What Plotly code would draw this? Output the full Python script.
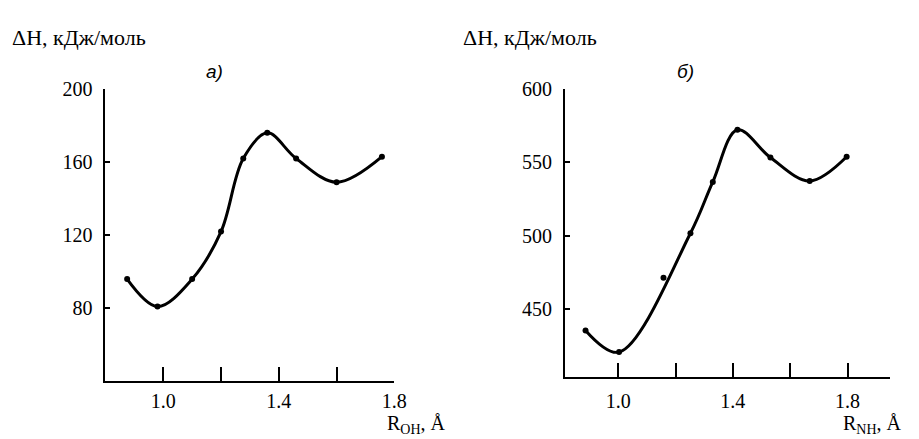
import plotly.graph_objects as go

# ---- data ----
oh_x = [0.875, 0.98, 1.10, 1.20, 1.277, 1.36, 1.46, 1.60, 1.757]
oh_y = [96, 81, 96, 122, 162, 176, 162, 149, 163]

nh_x = [0.886, 1.003, 1.158, 1.252, 1.330, 1.416, 1.531, 1.668, 1.797]
nh_y = [435.5, 420.7, 471.3, 501.7, 536.7, 572.2, 553.3, 537.3, 553.8]
nh_on_curve = [True, True, False, True, True, True, True, True, True]

oh_yticks = [80, 120, 160, 200]
nh_yticks = [450, 500, 550, 600]
x_ticklabels = [1.0, 1.4, 1.8]
x_minor = [1.2, 1.6]

W, H = 919, 439
SERIF = "Liberation Serif"
SANS = "Liberation Sans"

def px(x):
    return x / W

def py(y):
    return 1 - y / H

fig = go.Figure()

# left panel
fig.add_trace(go.Scatter(x=oh_x, y=oh_y, mode="lines", line=dict(color="black", width=3, shape="spline", smoothing=1.0),
                         xaxis="x", yaxis="y", hoverinfo="skip"))
fig.add_trace(go.Scatter(x=oh_x, y=oh_y, mode="markers", marker=dict(color="black", size=6),
                         xaxis="x", yaxis="y"))

# right panel
cx = [x for x, k in zip(nh_x, nh_on_curve) if k]
cy = [y for y, k in zip(nh_y, nh_on_curve) if k]
fig.add_trace(go.Scatter(x=cx, y=cy, mode="lines", line=dict(color="black", width=3, shape="spline", smoothing=1.0),
                         xaxis="x2", yaxis="y2", hoverinfo="skip"))
fig.add_trace(go.Scatter(x=nh_x, y=nh_y, mode="markers", marker=dict(color="black", size=6),
                         xaxis="x2", yaxis="y2"))

tickfont = dict(family=SERIF, size=20, color="black")

def xaxis(domain, rng, anchor, standoff):
    return dict(domain=domain, range=rng, anchor=anchor, showgrid=False, zeroline=False,
                showline=True, linecolor="black", linewidth=2,
                tickmode="array", tickvals=x_ticklabels, ticktext=[f"{v:.1f}" for v in x_ticklabels],
                ticks="inside", ticklen=14, tickwidth=1.5, tickcolor="black",
                minor=dict(tickmode="array", tickvals=x_minor, ticks="inside", ticklen=14, tickwidth=1.5, tickcolor="black"),
                tickfont=tickfont, ticklabelstandoff=standoff)

def yaxis(domain, rng, anchor, ticks):
    return dict(domain=domain, range=rng, anchor=anchor, showgrid=False, zeroline=False,
                showline=True, linecolor="black", linewidth=2,
                tickmode="array", tickvals=ticks, ticktext=[str(v) for v in ticks],
                ticks="inside", ticklen=5, tickwidth=1.5, tickcolor="black",
                tickfont=tickfont, ticklabelstandoff=7)

fig.update_layout(
    width=W, height=H, margin=dict(l=0, r=0, t=0, b=0),
    paper_bgcolor="white", plot_bgcolor="white", showlegend=False,
    xaxis=xaxis([px(107), px(400)], [0.8, 1.8], "y", 1),
    yaxis=yaxis([py(380), py(80)], [40, 200], "x", oh_yticks),
    xaxis2=xaxis([px(573), px(903)], [0.814, 1.949], "y2", 5),
    yaxis2=yaxis([py(375), py(80)], [404, 600], "x2", nh_yticks),
)

titlefont = dict(family=SERIF, size=22, color="black")
xtitlefont = dict(family=SERIF, size=20, color="black")
labfont = dict(family=SANS, size=19, color="black")
ann = [
    dict(text="ΔH, кДж/моль", x=px(10), y=py(27), xanchor="left", yanchor="middle", font=titlefont),
    dict(text="ΔH, кДж/моль", x=px(468), y=py(27), xanchor="left", yanchor="middle", font=titlefont),
    dict(text="<i>а)</i>", x=px(218), y=py(62), xanchor="center", yanchor="middle", font=labfont),
    dict(text="<i>б)</i>", x=px(695), y=py(62), xanchor="center", yanchor="middle", font=labfont),
    dict(text="R<sub>OH</sub>, Å", x=px(454), y=py(439), xanchor="right", yanchor="bottom", font=xtitlefont),
    dict(text="R<sub>NH</sub>, Å", x=px(917), y=py(439), xanchor="right", yanchor="bottom", font=xtitlefont),
]
for a in ann:
    a.update(xref="paper", yref="paper", showarrow=False)
fig.update_layout(annotations=ann)

fig.write_html("out.html", config={"displayModeBar": False},
               post_script="document.body.style.margin='0';document.body.style.overflow='hidden';")
